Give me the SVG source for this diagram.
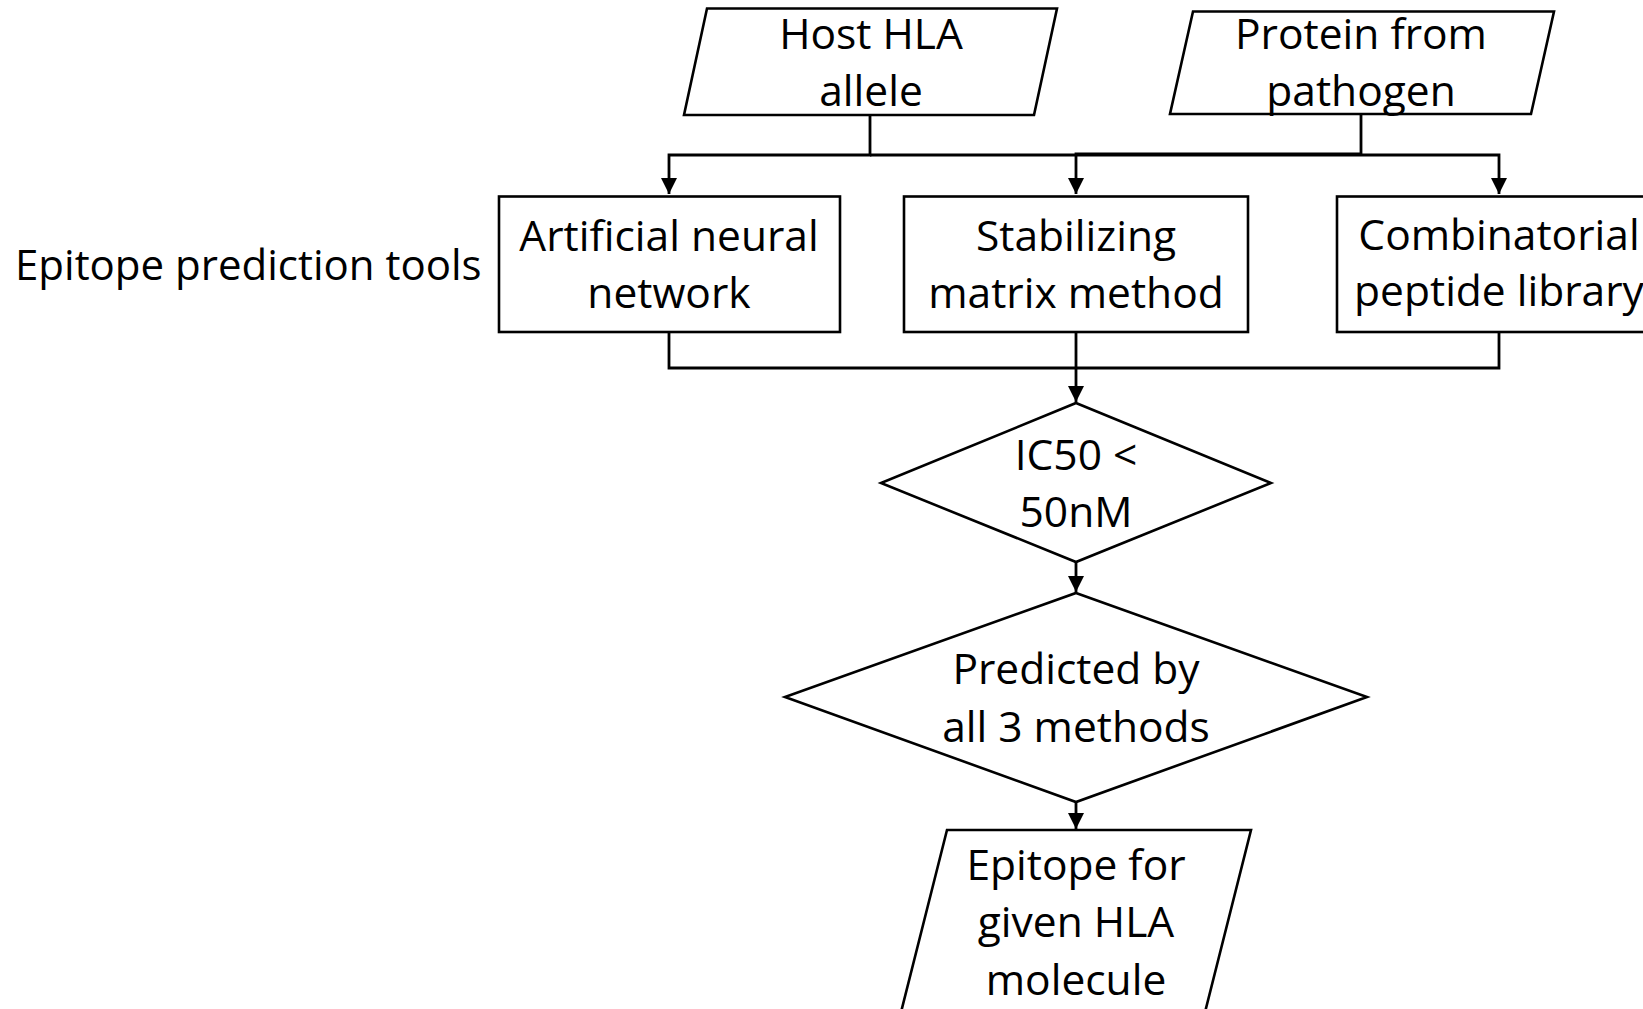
<svg xmlns="http://www.w3.org/2000/svg" width="1643" height="1009" viewBox="0 0 1643 1009">
  <style>
    .shape { fill: #ffffff; stroke: #000000; stroke-width: 2.6; }
    .wire { fill: none; stroke: #000000; stroke-width: 2.8; }
    .label { font-family: "Open Sans", "Noto Sans", sans-serif; font-size: 42.5px; fill: #000000; text-anchor: middle; }
    .side { font-family: "Open Sans", "Noto Sans", sans-serif; font-size: 42px; fill: #000000; text-anchor: start; }
  </style>
  <defs>
    <marker id="arrow" markerUnits="userSpaceOnUse" markerWidth="16" markerHeight="16" viewBox="0 0 16 16" refX="16" refY="8" orient="auto">
      <path d="M0,0 L16,8 L0,16 Z" fill="#000000"/>
    </marker>
  </defs>
  <rect width="1643" height="1009" fill="#ffffff"/>

  <!-- connectors -->
  <g id="connectors">
    <path class="wire" d="M870,115 V155 H669 V194" marker-end="url(#arrow)"/>
    <path class="wire" d="M870,155 H1499 V194" marker-end="url(#arrow)"/>
    <path class="wire" d="M1361,114 V154 H1076 V194" marker-end="url(#arrow)"/>
    <path class="wire" d="M669,332 V368 H1499 V332"/>
    <path class="wire" d="M1076,332 V402" marker-end="url(#arrow)"/>
    <path class="wire" d="M1076,562 V592" marker-end="url(#arrow)"/>
    <path class="wire" d="M1076,802 V829" marker-end="url(#arrow)"/>
  </g>

  <!-- inputs -->
  <g id="host-hla">
    <polygon class="shape" points="707,8.5 1057,8.5 1034,115 684,115"/>
    <text class="label" x="871" y="49">Host HLA</text>
    <text class="label" x="871" y="106">allele</text>
  </g>
  <g id="pathogen-protein">
    <polygon class="shape" points="1193,11.5 1554,11.5 1531,114 1170,114"/>
    <text class="label" x="1361" y="49">Protein from</text>
    <text class="label" x="1361" y="106">pathogen</text>
  </g>

  <!-- prediction tools -->
  <g id="tools-label">
    <text class="side" x="15" y="280">Epitope prediction tools</text>
  </g>
  <g id="ann">
    <rect class="shape" x="499" y="196.5" width="341" height="135.5"/>
    <text class="label" x="669" y="251">Artificial neural</text>
    <text class="label" x="669" y="308">network</text>
  </g>
  <g id="smm">
    <rect class="shape" x="904" y="196.5" width="344" height="135.5"/>
    <text class="label" x="1076" y="251">Stabilizing</text>
    <text class="label" x="1076" y="308">matrix method</text>
  </g>
  <g id="cpl">
    <rect class="shape" x="1337" y="196.5" width="330" height="135.5"/>
    <text class="label" x="1499" y="250">Combinatorial</text>
    <text class="label" x="1499" y="306">peptide library</text>
  </g>

  <!-- filters -->
  <g id="ic50">
    <polygon class="shape" points="1076,403 1271,483 1076,562 881,483"/>
    <text class="label" x="1076" y="470">IC50 &lt;</text>
    <text class="label" x="1076" y="527">50nM</text>
  </g>
  <g id="consensus">
    <polygon class="shape" points="1076,593 1367,697 1076,802 785,697"/>
    <text class="label" x="1076" y="684">Predicted by</text>
    <text class="label" x="1076" y="742">all 3 methods</text>
  </g>

  <!-- output -->
  <g id="epitope">
    <polygon class="shape" points="947,830 1251,830 1198,1040 894,1040"/>
    <text class="label" x="1076" y="880">Epitope for</text>
    <text class="label" x="1076" y="937">given HLA</text>
    <text class="label" x="1076" y="995">molecule</text>
  </g>
</svg>
